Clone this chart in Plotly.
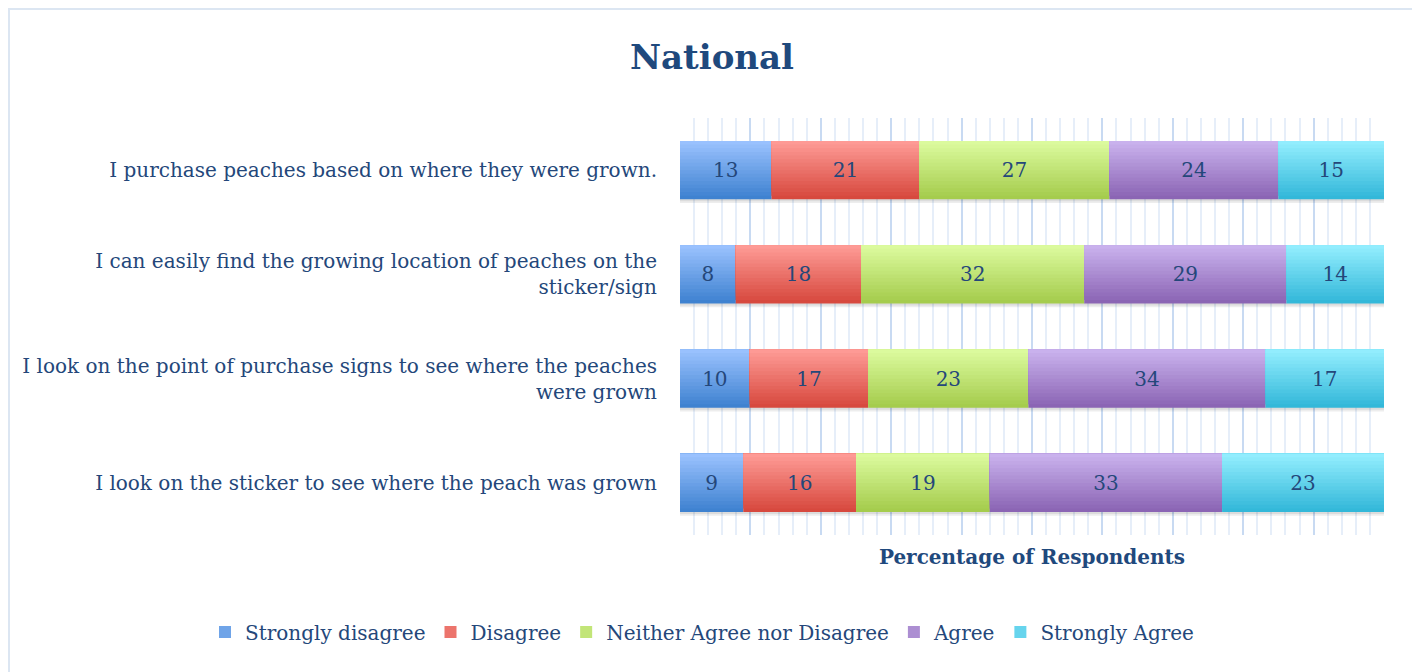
import plotly.graph_objects as go

questions = [
    "I purchase peaches based on where they were grown.",
    "I can easily find the growing location of peaches on the<br>sticker/sign",
    "I look on the point of purchase signs to see where the peaches<br>were grown",
    "I look on the sticker to see where the peach was grown",
]
series_names = ["Strongly disagree", "Disagree", "Neither Agree nor Disagree", "Agree", "Strongly Agree"]
strongly_disagree = [13, 8, 10, 9]
disagree = [21, 18, 17, 16]
neither = [27, 32, 23, 19]
agree = [24, 29, 34, 33]
strongly_agree = [15, 14, 17, 23]

# (top colour, bottom colour) of each series' vertical gradient
grad_top = ["#9CC3FF", "#FF9D98", "#DDFCA0", "#CBB4EF", "#95EFFF"]
grad_bot = ["#3C80CF", "#D6463B", "#A3CA4A", "#8962B2", "#30B6D8"]

all_series = [strongly_disagree, disagree, neither, agree, strongly_agree]
totals = [sum(s[i] for s in all_series) for i in range(len(questions))]
pct = [[v / totals[i] * 100 for i, v in enumerate(s)] for s in all_series]

text_color = "#24477A"
font_family = "DejaVu Serif"


def hex2rgb(h):
    h = h.lstrip("#")
    return tuple(int(h[i:i + 2], 16) for i in (0, 2, 4))


def mix(c1, c2, t):
    a, b = hex2rgb(c1), hex2rgb(c2)
    return "rgb(%d,%d,%d)" % tuple(round(a[i] + (b[i] - a[i]) * t) for i in range(3))


fig = go.Figure()
bar_w = 0.56
n_strips = 16
base = [0.0] * len(questions)
for si, name in enumerate(series_names):
    vals = pct[si]
    # soft shadow under each bar
    fig.add_trace(go.Bar(
        y=questions, x=vals, base=base, orientation="h",
        width=bar_w, offset=-bar_w / 2 - 0.035,
        marker=dict(color="rgba(0,0,0,0.07)", line=dict(width=0)),
        showlegend=False, hoverinfo="skip",
    ))
    fig.add_trace(go.Bar(
        y=questions, x=vals, base=base, orientation="h",
        width=bar_w, offset=-bar_w / 2 - 0.018,
        marker=dict(color="rgba(0,0,0,0.07)", line=dict(width=0)),
        showlegend=False, hoverinfo="skip",
    ))
    for k in range(n_strips):
        t = (k + 0.5) / n_strips
        col = mix(grad_bot[si], grad_top[si], t)
        start = -bar_w / 2 + k * bar_w / n_strips
        fig.add_trace(go.Bar(
            y=questions, x=vals, base=base, orientation="h",
            width=bar_w / 2 - start, offset=start,
            marker=dict(color=col, line=dict(width=0)),
            name=name, legendgroup=name,
            showlegend=(k == n_strips // 2),
            hoverinfo="skip",
        ))
    base = [base[i] + vals[i] for i in range(len(questions))]

# labels
base = [0.0] * len(questions)
for si, name in enumerate(series_names):
    vals = pct[si]
    fig.add_trace(go.Bar(
        y=questions, x=vals, base=base, orientation="h",
        width=bar_w, offset=-bar_w / 2,
        marker=dict(color="rgba(0,0,0,0)", line=dict(width=0)),
        text=[str(v) for v in all_series[si]], textposition="inside",
        insidetextanchor="middle", textangle=0, constraintext="none",
        textfont=dict(family=font_family, size=20, color=text_color),
        showlegend=False, hoverinfo="skip",
    ))
    base = [base[i] + vals[i] for i in range(len(questions))]

OFF = 8  # page body margin
W, H = 1420 - OFF, 672 - OFF
L = 680 - OFF
T = 118 - OFF
R = W - (1384 - OFF)
B = H - (535 - OFF)
pw, ph = W - L - R, H - T - B

fig.update_layout(
    width=W, height=H,
    barmode="overlay",
    plot_bgcolor="white", paper_bgcolor="white",
    margin=dict(l=L, r=R, t=T, b=B, pad=0),
    font=dict(family=font_family, color=text_color, size=20),
    title=dict(text="<b>National</b>", x=(712 - OFF) / W, xref="container", xanchor="center",
               y=1 - (57 - OFF) / H, yref="container", yanchor="middle",
               font=dict(family=font_family, size=34, color="#1F497D")),
    xaxis=dict(range=[0, 100], showticklabels=False, ticks="",
               showgrid=True, gridcolor="#C8DAF2", gridwidth=2, dtick=10,
               minor=dict(showgrid=True, gridcolor="#E6EEF9", gridwidth=1.5, dtick=2),
               zeroline=False, showline=False,
               title=dict(text="<b>Percentage of Respondents</b>", standoff=14,
                          font=dict(family=font_family, size=20, color="#1F497D"))),
    yaxis=dict(categoryorder="array", categoryarray=list(reversed(questions)),
               showgrid=False, ticks="", ticklabelstandoff=22,
               tickfont=dict(family=font_family, size=20, color=text_color)),
    legend=dict(orientation="h", xref="paper", x=(205 - OFF - L) / pw, xanchor="left",
                yref="paper", y=-((632 - OFF) - (T + ph)) / ph, yanchor="middle",
                font=dict(family=font_family, size=20, color=text_color),
                itemwidth=30, tracegroupgap=0, bgcolor="rgba(0,0,0,0)"),
    shapes=[dict(type="rect", xref="paper", yref="paper",
                 x0=(1 - L) / pw, x1=(1417 - OFF - L) / pw,
                 y0=-(H + 10 - T - ph) / ph, y1=1 + (T - 1) / ph,
                 line=dict(color="#DCE6F2", width=2), fillcolor="rgba(0,0,0,0)",
                 layer="below")],
)

fig.write_html("out.html")
